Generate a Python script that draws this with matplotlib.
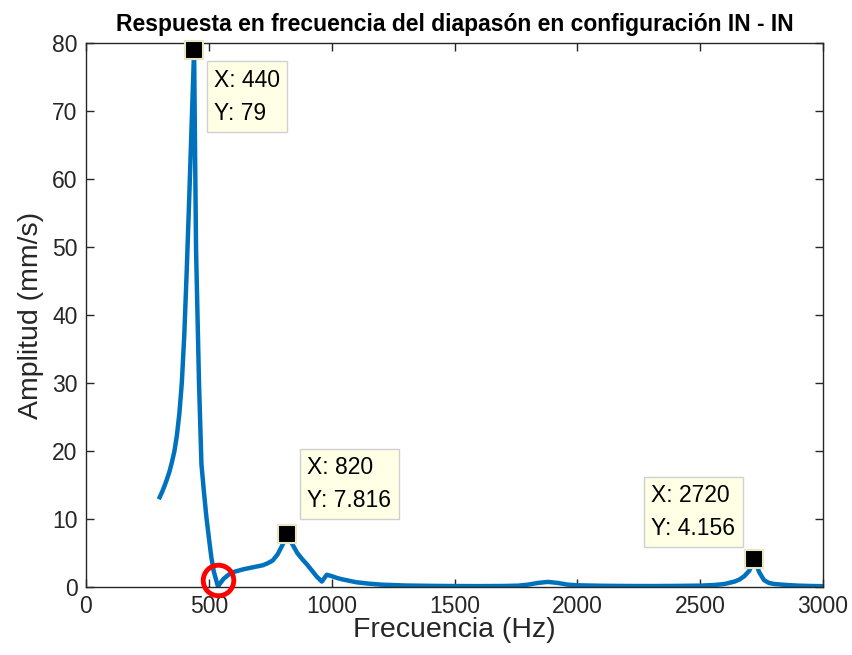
import matplotlib
matplotlib.use("Agg")
import matplotlib.pyplot as plt

# ---- data ----
freq = [300, 310, 320, 330, 340, 350, 360, 370, 380, 390, 400, 410, 420, 430, 440,
        444, 448, 460, 470, 480, 490, 500, 510, 520, 537,
        560, 580, 600, 640, 680, 720, 740, 760, 780, 800, 820, 840, 860, 880, 900,
        920, 940, 960, 980, 1000, 1020, 1040, 1060, 1100, 1150, 1200, 1300, 1400,
        1500, 1600, 1700, 1760, 1800, 1840, 1880, 1920, 1960, 2000, 2100, 2200,
        2300, 2400, 2500, 2560, 2600, 2640, 2660, 2680, 2700, 2720, 2740, 2760,
        2780, 2800, 2850, 2900, 2950, 3000]
amp = [13.2, 14.0, 14.9, 15.9, 17.0, 18.4, 20.0, 22.3, 25.5, 30.0, 37.0, 46.5, 57.0,
       68.0, 79.0, 64.0, 49.6, 30.0, 18.0, 14.0, 10.3, 7.3, 4.4, 2.3, 0.1,
       1.2, 1.8, 2.2, 2.6, 2.9, 3.2, 3.5, 3.9, 4.8, 6.2, 7.816, 6.3, 5.0,
       4.1, 3.3, 2.4, 1.5, 0.8, 1.8, 1.6, 1.35, 1.15, 1.0, 0.7, 0.5, 0.35, 0.22,
       0.17, 0.14, 0.13, 0.15, 0.2, 0.35, 0.6, 0.75, 0.6, 0.35, 0.25, 0.18, 0.15,
       0.14, 0.16, 0.2, 0.3, 0.45, 0.8, 1.1, 1.6, 2.4, 4.156, 2.2, 1.0, 0.6, 0.45,
       0.3, 0.2, 0.15, 0.12]

tip_x = [440, 820, 2720]
tip_y = [79, 7.816, 4.156]
tip_labels = ["X: 440\nY: 79", "X: 820\nY: 7.816", "X: 2720\nY: 4.156"]
circle_x = [537]
circle_y = [1.0]

xticks = [0, 500, 1000, 1500, 2000, 2500, 3000]
yticks = [0, 10, 20, 30, 40, 50, 60, 70, 80]

title = "Respuesta en frecuencia del diapasón en configuración IN - IN"
xlabel = "Frecuencia (Hz)"
ylabel = "Amplitud (mm/s)"

# ---- figure ----
plt.rcParams['font.family'] = ['Liberation Sans', 'DejaVu Sans']
fig = plt.figure(figsize=(8.52, 6.55), dpi=100)
ax = fig.add_axes([86/852, 1-587/655, (823-86)/852, (587-43)/655])

ax.plot(freq, amp, color='#0072BD', lw=3.2, solid_joinstyle='round', zorder=2)

ax.set_xlim(0, 3000)
ax.set_ylim(0, 80)
ax.set_xticks(xticks)
ax.set_yticks(yticks)
axcol = '#262626'
for s in ax.spines.values():
    s.set_color(axcol)
    s.set_linewidth(1.0)
ax.tick_params(direction='in', length=6, width=1.0, colors=axcol, labelsize=16.5,
               top=True, right=True, pad=6)
ax.set_xlabel(xlabel, fontsize=20.5, color=axcol, labelpad=-1)
ax.set_ylabel(ylabel, fontsize=20.5, color=axcol, labelpad=6)
ax.set_title(title, fontsize=16.5, fontweight='bold', color='black', pad=9)

# data tip markers
ax.plot(tip_x, tip_y, linestyle='none', marker='s', markersize=12.5,
        markerfacecolor='black', markeredgecolor='#EAE6C4', markeredgewidth=1.5,
        zorder=4, clip_on=False)

# data tip boxes
offsets = [((20, -19), 'left', 'top'),
           ((20, 22), 'left', 'bottom'),
           ((-19, 19), 'right', 'bottom')]
for x, y, lab, (off, ha, va) in zip(tip_x, tip_y, tip_labels, offsets):
    ax.annotate(lab, xy=(x, y), xytext=off, textcoords='offset pixels',
                ha=ha, va=va, multialignment='left', fontsize=16.5,
                linespacing=1.55, color='black',
                bbox=dict(boxstyle='square,pad=0.32', facecolor='#FFFFE6',
                          edgecolor='#D0D0D0', linewidth=1.0),
                zorder=5)

# red circle
ax.plot(circle_x, circle_y, linestyle='none', marker='o', markersize=22,
        markerfacecolor='none', markeredgecolor='#FF0000', markeredgewidth=3.5,
        zorder=6, clip_on=False)

fig.savefig("out.png", dpi=100)
